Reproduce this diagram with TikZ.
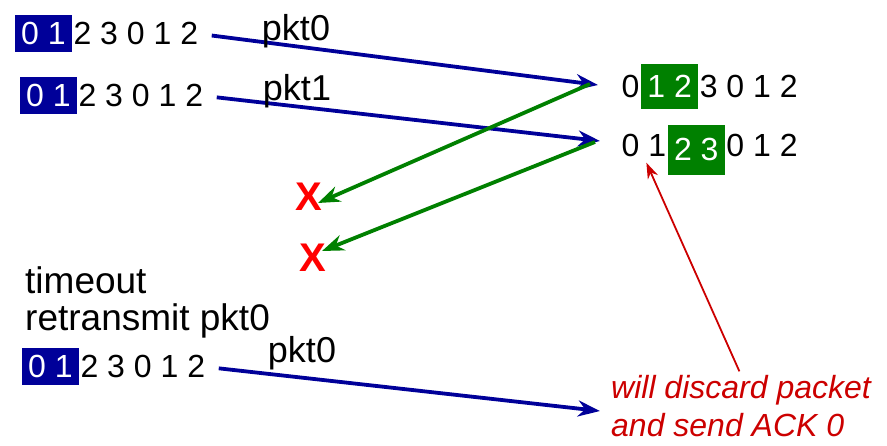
\documentclass[tikz,border=0pt]{standalone}
\usepackage{fontspec}
\setmainfont{Liberation Sans}
\usetikzlibrary{arrows.meta, positioning}
\definecolor{navy}{RGB}{0,0,153}
\definecolor{ackgreen}{RGB}{0,128,0}
\definecolor{lossred}{RGB}{255,0,0}
\definecolor{notered}{RGB}{204,0,0}

\begin{document}
\begin{tikzpicture}[x=1pt, y=-1pt, >=Stealth, font=\fontsize{32}{34}\selectfont,
    seq/.style={anchor=west, inner xsep=1.5pt, inner ysep=0pt, text height=22pt, text depth=0pt},
    win/.style={seq, text=white, inner xsep=6pt, minimum height=#1},
    win/.default=37pt,
    lbl/.style={font=\fontsize{36}{40}\selectfont, inner sep=0pt},
    big/.style={anchor=north west, align=left, font=\fontsize{37}{37}\selectfont, inner sep=0pt},
    lost/.style={text=lossred, font=\fontsize{40}{40}\selectfont\bfseries, inner sep=0pt},
    pkt/.style={line width=3.8pt, navy, shorten <=12pt, -{Stealth[length=22pt, width=16pt]}},
    ack/.style={line width=3.8pt, ackgreen, -{Stealth[length=22pt, width=16pt]}}]
    \useasboundingbox (0,0) rectangle (887,446);
    % sender windows
    \node[win, fill=navy] (s0w) at (15,34) {0 1};
    \node[seq, right=0pt of s0w] (s0r) {2 3 0 1 2};
    \node[win, fill=navy] (s1w) at (20,96) {0 1};
    \node[seq, right=0pt of s1w] (s1r) {2 3 0 1 2};
    \node[big] (rtx) at (25,266) {timeout\\retransmit pkt0};
    \node[win, fill=navy] (s2w) at (22,367) {0 1};
    \node[seq, right=0pt of s2w] (s2r) {2 3 0 1 2};
    % receiver windows
    \node[seq] (r0a) at (620,87) {0};
    \node[win=45pt, fill=ackgreen, right=0pt of r0a] (r0w) {1 2};
    \node[seq, right=0pt of r0w] (r0b) {3 0 1 2};
    \node[seq] (r1a) at (620,146) {0 1};
    \node[win=50pt, fill=ackgreen, right=0pt of r1a, yshift=-4pt] (r1w) {2 3};
    \node[seq, right=0pt of r1w, yshift=4pt] (r1b) {0 1 2};
    % lost acks
    \node[lost] (x0) at (309,197) {X};
    \node[lost] (x1) at (313,258) {X};
    \coordinate (d0) at (598,85);
    \coordinate (d1) at (600,141);
    \coordinate (d2) at (600,411);
    \coordinate (g0) at (590,84);
    \coordinate (g1) at (595,142);
    \coordinate (e0) at (318,203);
    \coordinate (e1) at (322,251);
    % packets
    \draw[pkt] (s0r.east) -- (d0);
    \node[lbl] (l0) at (296,31) {pkt0};
    \draw[pkt] (s1r.east) -- (d1);
    \node[lbl] (l1) at (297,91) {pkt1};
    \draw[pkt] (s2r.east) -- (d2);
    \node[lbl] (l2) at (302,353) {pkt0};
    % acks
    \draw[ack] (g0) -- (e0);
    \draw[ack] (g1) -- (e1);
    % note
    \node[anchor=north west, align=left, text=notered, inner sep=0pt,
        font=\fontsize{32}{38}\selectfont\itshape] (note) at (611,375)
        {will discard packet\\and send ACK 0};
    \draw[notered, line width=1.8pt, -{Stealth[length=16pt, width=11pt]}, shorten <=4pt, shorten >=6pt]
        (note.north) -- (r1a.south);
\end{tikzpicture}
\end{document}
